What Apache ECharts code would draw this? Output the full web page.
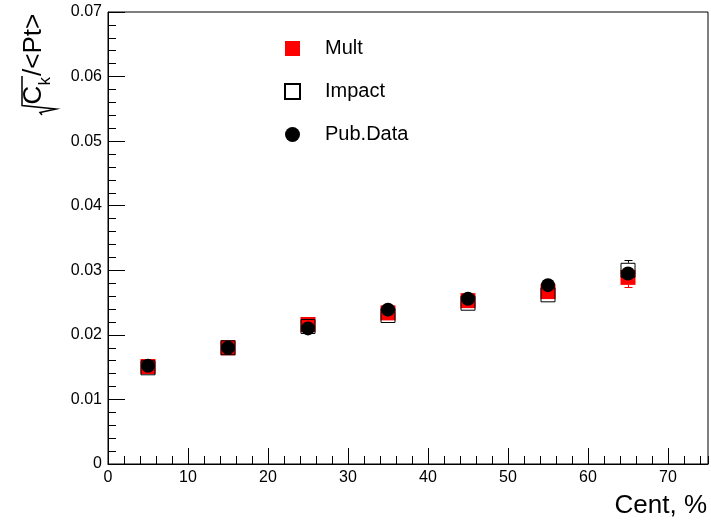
<!DOCTYPE html>
<html>
<head>
<meta charset="utf-8">
<script src="https://cdn.jsdelivr.net/npm/echarts@6/dist/echarts.min.js"></script>
<style>
  html, body { margin: 0; padding: 0; background: #fff; }
  #chart { width: 711px; height: 521px; }
</style>
</head>
<body>
<div id="chart"></div>
<script>
// Centrality bin centres, %
const cent = [5, 15, 25, 35, 45, 55, 65];

// sqrt(C_k)/<Pt> for each selection
const mult      = [0.0151, 0.0180, 0.0216, 0.0234, 0.0253, 0.0267, 0.0289];
const multErr   = [0.0003, 0.0003, 0.0004, 0.0004, 0.0005, 0.0006, 0.0015];
const impact    = [0.0149, 0.0180, 0.0213, 0.0230, 0.0249, 0.0262, 0.0300];
const impactErr = [0.0003, 0.0003, 0.0004, 0.0004, 0.0005, 0.0006, 0.0016];
const pubData   = [0.0152, 0.0180, 0.0210, 0.0239, 0.0256, 0.0277, 0.0295];

const legendNames = ['Mult', 'Impact', 'Pub.Data'];
const xTitle = 'Cent, %';

const FONT = '"Liberation Sans", Arial, Helvetica, sans-serif';
const MARK = 15;

const chart = echarts.init(document.getElementById('chart'), null, { renderer: 'canvas' });

// vertical error bars, drawn only outside the marker body
function errorBars(name, ys, errs, color) {
  return {
    type: 'custom',
    name: name,
    silent: true,
    z: 1,
    data: cent.map((x, i) => [x, ys[i], errs[i]]),
    encode: { x: 0, y: 1 },
    renderItem: function (params, api) {
      const x = api.value(0), y = api.value(1), e = api.value(2);
      const c = api.coord([x, y]);
      const hi = api.coord([x, y + e]);
      const lo = api.coord([x, y - e]);
      const px = Math.round(c[0]) + 0.5;
      const half = MARK / 2;
      const style = { stroke: color, lineWidth: 1 };
      const kids = [];
      if (c[1] - hi[1] > half) {
        const yy = Math.round(hi[1]) + 0.5;
        kids.push({ type: 'line', shape: { x1: px, y1: c[1] - half, x2: px, y2: yy }, style: style });
        kids.push({ type: 'line', shape: { x1: px - 4, y1: yy, x2: px + 4, y2: yy }, style: style });
      }
      if (lo[1] - c[1] > half) {
        const yy = Math.round(lo[1]) + 0.5;
        kids.push({ type: 'line', shape: { x1: px, y1: c[1] + half, x2: px, y2: yy }, style: style });
        kids.push({ type: 'line', shape: { x1: px - 4, y1: yy, x2: px + 4, y2: yy }, style: style });
      }
      return { type: 'group', children: kids };
    }
  };
}

const pts = (ys) => cent.map((x, i) => [x, ys[i]]);

// y-axis title: sqrt(C_k)/<Pt>, rotated to read upwards
const yTitle = {
  type: 'group',
  x: 47, y: 115,
  rotation: Math.PI / 2,
  children: [
    { type: 'polyline', shape: { points: [[0, -5], [2.5, -7], [6, 9], [9.5, -25], [39, -25]] },
      style: { stroke: '#000', lineWidth: 1.5, fill: null } },
    { type: 'text', x: 10.5, y: 0, style: { text: 'C', font: '26px ' + FONT, fill: '#000', verticalAlign: 'bottom' } },
    { type: 'text', x: 29.5, y: 7, style: { text: 'k', font: '17px ' + FONT, fill: '#000', verticalAlign: 'bottom' } },
    { type: 'text', x: 39, y: 0, style: { text: '/<Pt>', font: '26px ' + FONT, fill: '#000', verticalAlign: 'bottom' } }
  ]
};

const option = {
  backgroundColor: '#fff',
  animation: false,
  grid: { left: 108, right: 3, top: 12, bottom: 57, show: true, borderColor: '#000', borderWidth: 1, backgroundColor: 'transparent' },
  legend: {
    data: legendNames,
    orient: 'vertical',
    left: 279, top: 32,
    itemWidth: 15, itemHeight: 15,
    itemGap: 20,
    textStyle: { fontFamily: FONT, fontSize: 20, color: '#000', lineHeight: 23, padding: [0, 0, 0, 20] },
    selectedMode: false
  },
  xAxis: [
    {
      type: 'value', min: 0, max: 75, interval: 10,
      axisLine: { show: true, lineStyle: { color: '#000', width: 1 } },
      axisTick: { show: true, inside: true, length: 16, lineStyle: { color: '#000' } },
      splitLine: { show: false },
      axisLabel: { show: true, showMaxLabel: false, margin: 6, fontFamily: FONT, fontSize: 16, color: '#000' }
    },
    {
      type: 'value', min: 0, max: 75, interval: 2, position: 'bottom',
      axisLine: { show: false },
      axisTick: { show: true, inside: true, length: 8, lineStyle: { color: '#000' } },
      splitLine: { show: false },
      axisLabel: { show: false }
    }
  ],
  yAxis: {
    type: 'value', min: 0, max: 0.07, interval: 0.01,
    axisLine: { show: true, lineStyle: { color: '#000', width: 1 } },
    axisTick: { show: true, inside: true, length: 17, lineStyle: { color: '#000' } },
    minorTick: { show: true, splitNumber: 5, length: 8, lineStyle: { color: '#000' } },
    splitLine: { show: false },
    minorSplitLine: { show: false },
    axisLabel: {
      margin: 6, fontFamily: FONT, fontSize: 16, color: '#000',
      formatter: (v) => (v === 0 ? '0' : v.toFixed(2))
    }
  },
  graphic: [
    yTitle,
    { type: 'text', right: 4, top: 493, style: { text: xTitle, font: '26px ' + FONT, fill: '#000' } }
  ],
  series: [
    errorBars('Mult err', mult, multErr, '#ff0000'),
    {
      type: 'scatter', name: 'Mult', data: pts(mult), z: 2,
      symbol: 'rect', symbolSize: MARK,
      itemStyle: { color: '#ff0000', opacity: 1 }
    },
    errorBars('Impact err', impact, impactErr, '#000'),
    {
      type: 'scatter', name: 'Impact', data: pts(impact), z: 3,
      symbol: 'rect', symbolSize: MARK - 1,
      itemStyle: { color: 'rgba(0,0,0,0)', borderColor: '#000', borderWidth: 1, opacity: 1 }
    },
    {
      type: 'scatter', name: 'Pub.Data', data: pts(pubData), z: 4,
      symbol: 'circle', symbolSize: 14,
      itemStyle: { color: '#000', opacity: 1 }
    }
  ]
};

chart.setOption(option);
</script>
</body>
</html>
